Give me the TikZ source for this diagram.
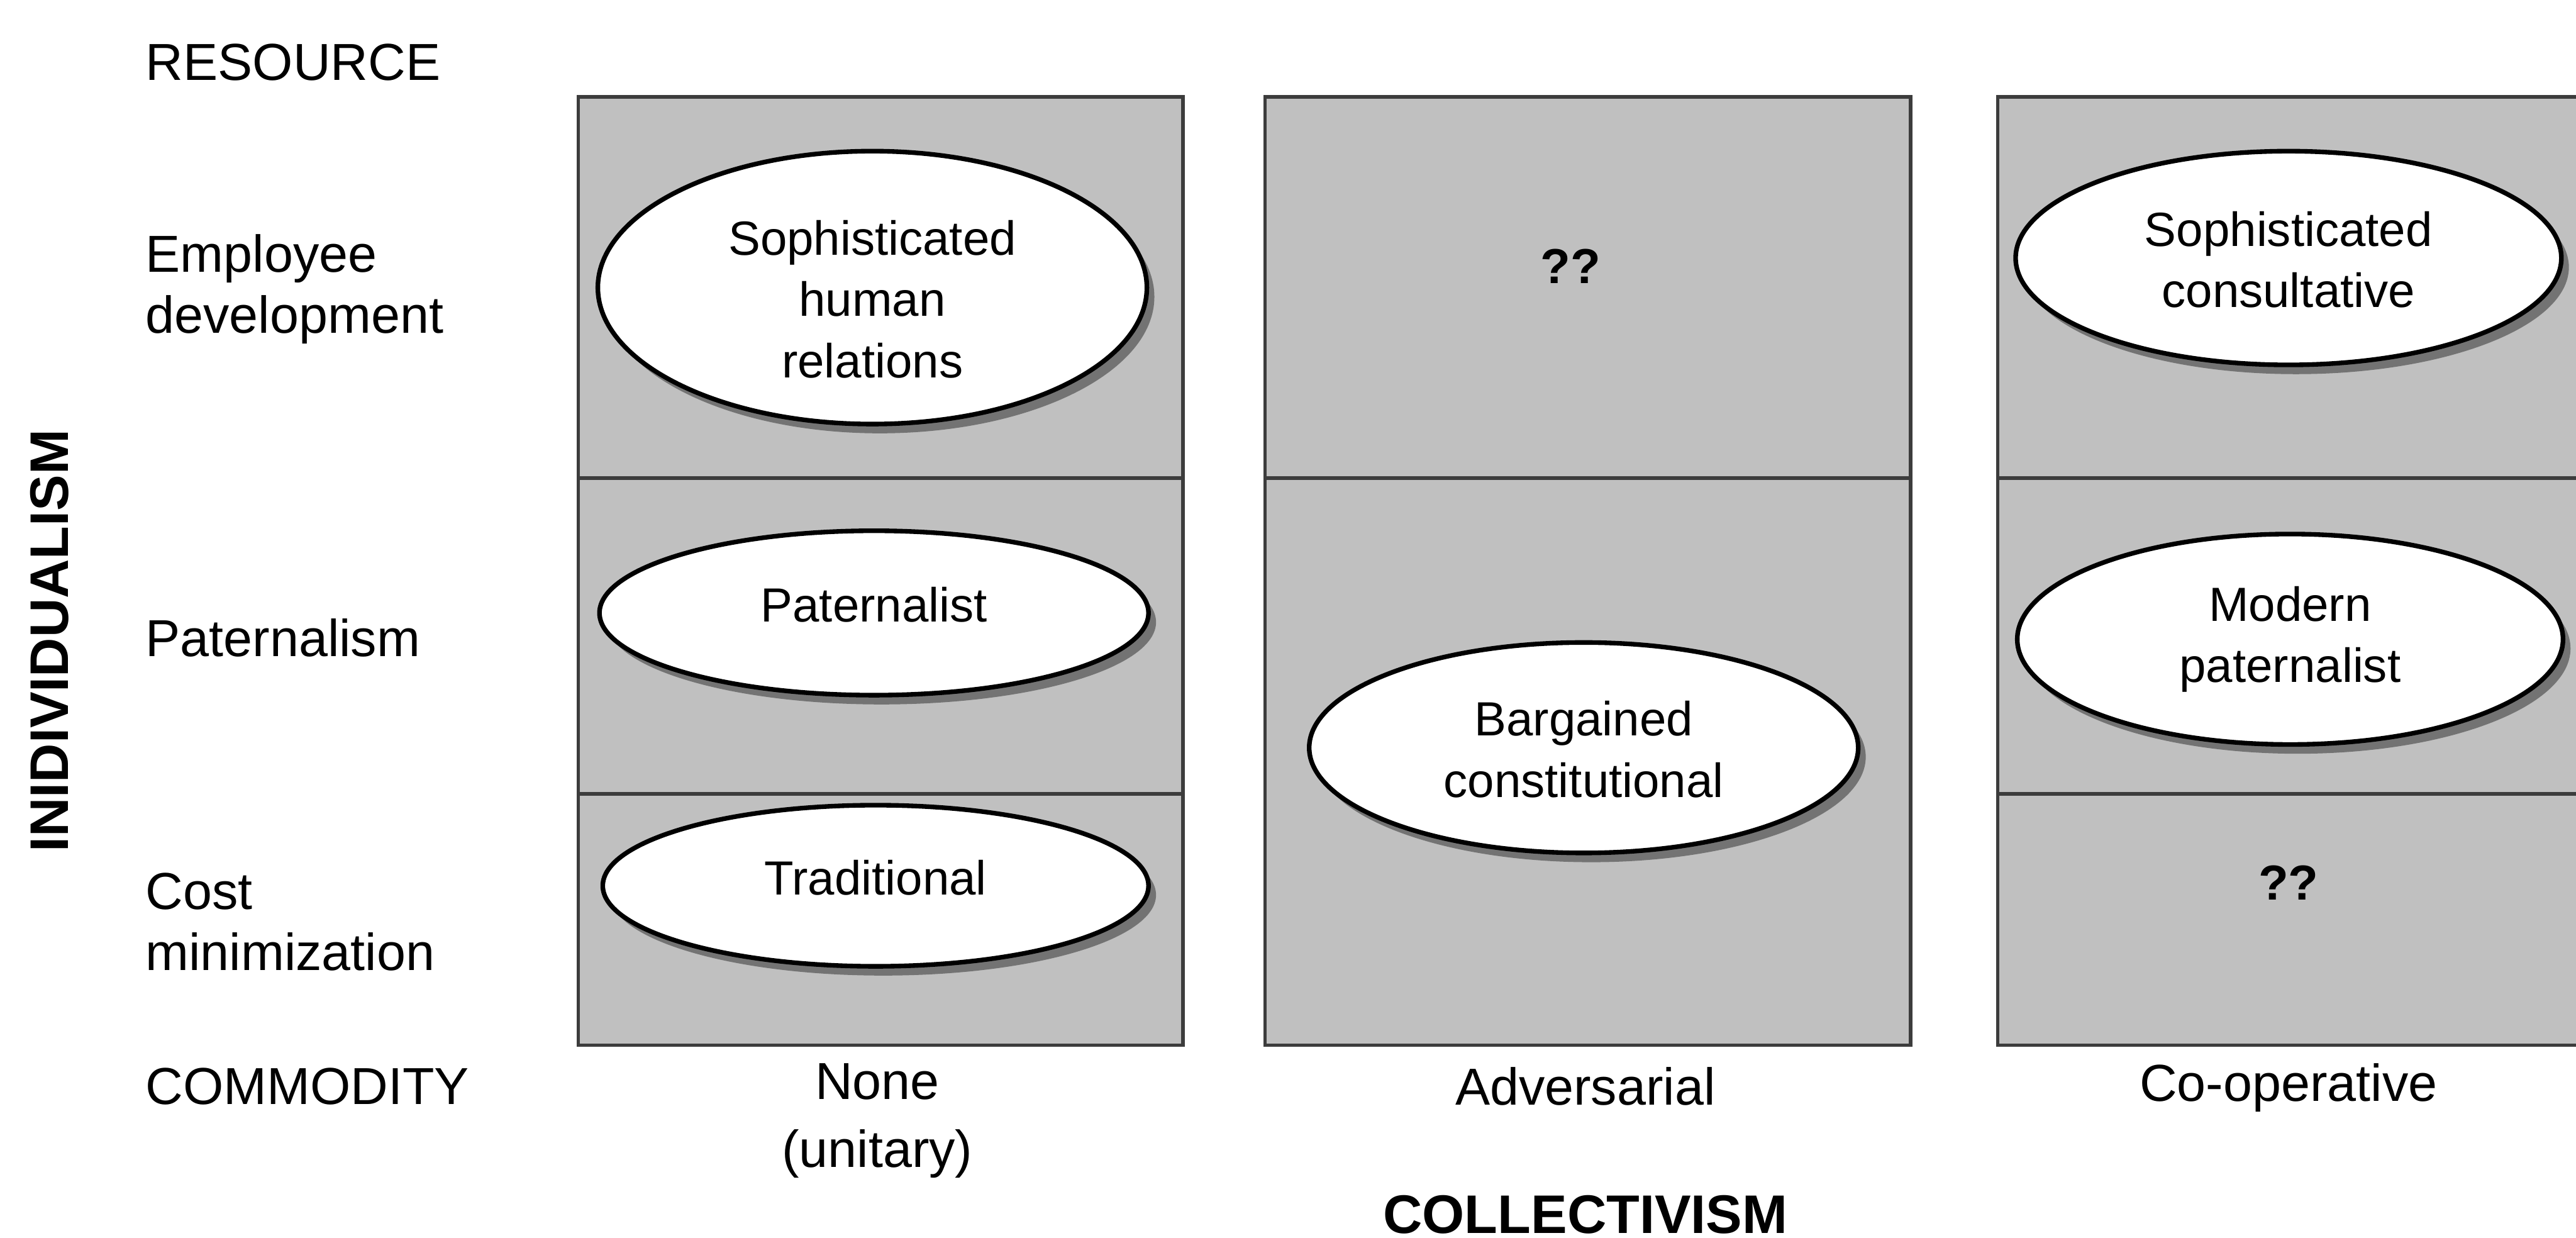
\documentclass[tikz,border=0pt]{standalone}
\usepackage{fontspec}
\setmainfont{Liberation Sans}
\usetikzlibrary{shapes.geometric,shadows}

\definecolor{cellgray}{RGB}{192,192,192}
\definecolor{rulegray}{RGB}{60,60,60}

\tikzset{
  cell/.style={fill=cellgray, draw=rulegray, line width=0.6pt},
  divider/.style={draw=rulegray, line width=0.6pt},
  oval/.style={ellipse, draw=black, line width=0.8pt, fill=white, inner sep=0pt,
    drop shadow={shadow xshift=1.3pt, shadow yshift=-1.6pt, fill=black!55, opacity=1}},
  ovaltext/.style={align=center, font=\fontsize{8.3}{10.6}\selectfont},
  rowlabel/.style={anchor=west, align=left, inner sep=0pt, font=\fontsize{9}{10.6}\selectfont},
  collabel/.style={align=center, font=\fontsize{9}{11.8}\selectfont},
  axislabel/.style={font=\bfseries\fontsize{9.4}{11}\selectfont},
  query/.style={font=\bfseries\fontsize{8.5}{10}\selectfont}
}

\begin{document}
\begin{tikzpicture}[x=0.01cm, y=-0.01cm]
\useasboundingbox (0,0) rectangle (1568,753);
\clip (0,0) rectangle (1568,753);

% the three columns of the grid
\filldraw[cell] (352,59) rectangle (720,636);
\filldraw[cell] (770,59) rectangle (1163,636);
\filldraw[cell] (1216,59) rectangle (1600,636);

% row dividers
\draw[divider] (352,291) -- (720,291);
\draw[divider] (352,483) -- (720,483);
\draw[divider] (770,291) -- (1163,291);
\draw[divider] (1216,291) -- (1600,291);
\draw[divider] (1216,483) -- (1600,483);

% management styles
\node[oval, minimum width=3.34cm, minimum height=1.66cm] (shr) at (531,175) {};
\node[ovaltext] (shrtext) at (531,182) {Sophisticated\\human\\relations};

\node[oval, minimum width=3.34cm, minimum height=1.00cm] (pat) at (532,373) {};
\node[ovaltext] (pattext) at (532,368) {Paternalist};

\node[oval, minimum width=3.32cm, minimum height=0.98cm] (trad) at (533,539) {};
\node[ovaltext] (tradtext) at (533,534) {Traditional};

\node[oval, minimum width=3.34cm, minimum height=1.28cm] (barg) at (964,455) {};
\node[ovaltext] (bargtext) at (964,456) {Bargained\\constitutional};

\node[oval, minimum width=3.32cm, minimum height=1.30cm] (scons) at (1393,157) {};
\node[ovaltext] (sconstext) at (1393,158) {Sophisticated\\consultative};

\node[oval, minimum width=3.32cm, minimum height=1.28cm] (mpat) at (1394,389) {};
\node[ovaltext] (mpattext) at (1394,389) {Modern\\paternalist};

% empty cells
\node[query] (q1) at (956,162) {??};
\node[query] (q2) at (1393,537) {??};

% row labels
\node[rowlabel] (resource) at (88,38) {RESOURCE};
\node[rowlabel] (empdev) at (88,176) {Employee\\development};
\node[rowlabel] (paternalism) at (88,388) {Paternalism};
\node[rowlabel] (costmin) at (88,561) {Cost\\minimization};
\node[rowlabel] (commodity) at (88,661) {COMMODITY};

% column labels
\node[collabel] (none) at (534,682) {None\\(unitary)};
\node[collabel] (adv) at (965,661) {Adversarial};
\node[collabel] (coop) at (1393,662) {Co-operative};

% axis titles
\node[axislabel, rotate=90] (indiv) at (30,390) {INIDIVIDUALISM};
\node[axislabel] (coll) at (965,739) {COLLECTIVISM};
\end{tikzpicture}
\end{document}
